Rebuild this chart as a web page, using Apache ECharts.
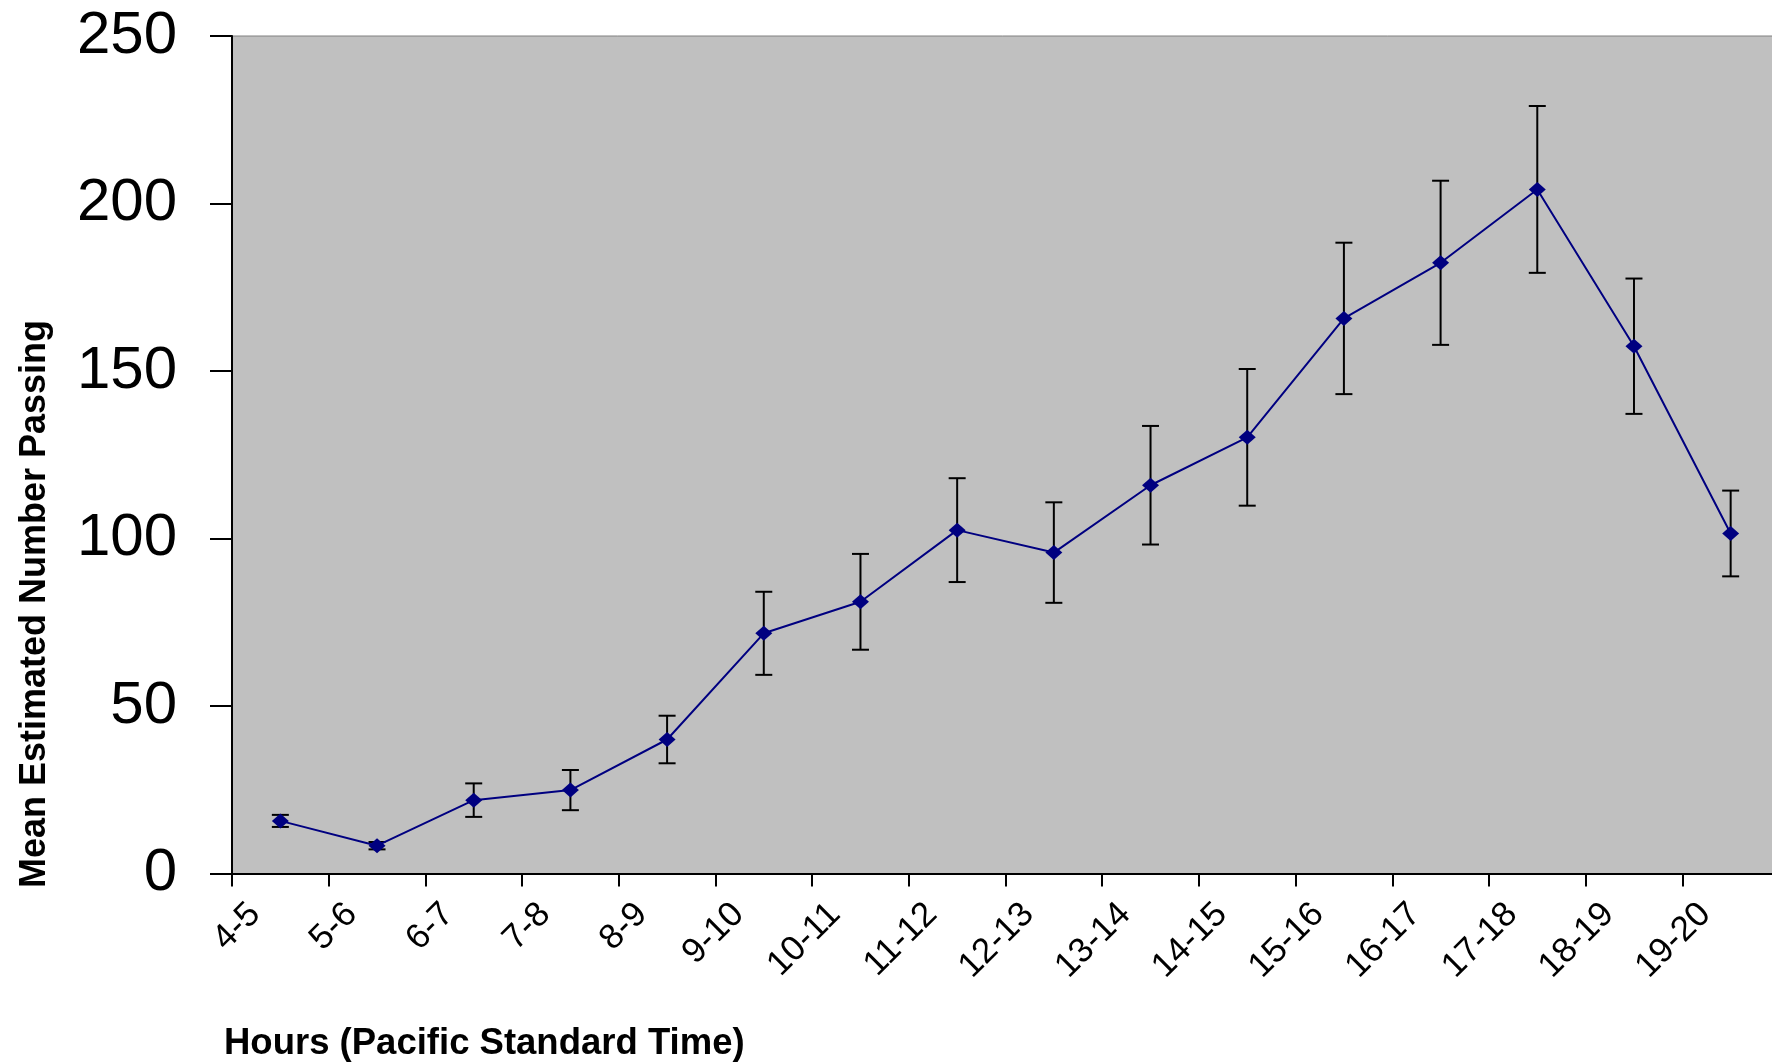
<!DOCTYPE html>
<html>
<head>
<meta charset="utf-8">
<script src="https://cdn.jsdelivr.net/npm/echarts@6/dist/echarts.min.js"></script>
<style>
html,body{margin:0;padding:0;background:#fff;}
#chart{width:1772px;height:1062px;}
</style>
</head>
<body>
<div id="chart"></div>
<script>
const categories = ['4-5','5-6','6-7','7-8','8-9','9-10','10-11','11-12','12-13','13-14','14-15','15-16','16-17','17-18','18-19','19-20'];
const means = [15.7, 8.3, 21.9, 24.9, 40.0, 71.7, 81.1, 102.5, 95.8, 115.9, 130.2, 165.7, 182.3, 204.2, 157.4, 101.5];
const errors = [1.8, 1.1, 5.0, 6.0, 7.1, 12.4, 14.3, 15.5, 15.0, 17.7, 20.4, 22.6, 24.5, 24.9, 20.2, 12.8];
const yTicks = [0, 50, 100, 150, 200, 250];
const yTitle = 'Mean Estimated Number Passing';
const xTitle = 'Hours (Pacific Standard Time)';

const errData = categories.map((c, i) => [i, means[i] - errors[i], means[i] + errors[i]]);

const chart = echarts.init(document.getElementById('chart'), null, {renderer: 'canvas'});
chart.setOption({
  animation: false,
  backgroundColor: '#ffffff',
  grid: {
    left: 232, top: 36, width: 1547, height: 837.5,
    outerBoundsMode: 'none', containLabel: false,
    show: true, backgroundColor: '#C0C0C0', borderColor: '#808080', borderWidth: 1
  },
  xAxis: {
    type: 'category',
    data: categories,
    boundaryGap: true,
    axisLine: {show: true, lineStyle: {color: '#000', width: 2}},
    axisTick: {show: true, inside: false, length: 13, interval: 0, lineStyle: {color: '#000', width: 2}},
    axisLabel: {
      interval: 0, rotate: 45, margin: 10,
      padding: [0, 36, 0, 0],
      fontFamily: 'Liberation Sans, Arial, sans-serif', fontSize: 35, color: '#000'
    },
    splitLine: {show: false}
  },
  yAxis: {
    type: 'value',
    min: yTicks[0], max: yTicks[yTicks.length - 1], interval: 50,
    axisLine: {show: true, lineStyle: {color: '#000', width: 2}},
    axisTick: {show: true, inside: false, length: 22, lineStyle: {color: '#000', width: 2}},
    axisLabel: {
      margin: 55, padding: [10, 0, 0, 0],
      fontFamily: 'Liberation Sans, Arial, sans-serif', fontSize: 60, color: '#000'
    },
    splitLine: {show: false}
  },
  graphic: [
    {
      type: 'text', x: 35, y: 604, rotation: Math.PI / 2,
      style: {text: yTitle, font: 'bold 36px "Liberation Sans", Arial, sans-serif', fill: '#000',
        align: 'center', verticalAlign: 'middle', textAlign: 'center', textVerticalAlign: 'middle'}
    },
    {
      type: 'text', x: 224, y: 1044,
      style: {text: xTitle, font: 'bold 36.5px "Liberation Sans", Arial, sans-serif', fill: '#000',
        align: 'left', verticalAlign: 'middle', textAlign: 'left', textVerticalAlign: 'middle'}
    }
  ],
  series: [
    {
      type: 'custom',
      z: 2,
      data: errData,
      encode: {x: 0, y: [1, 2]},
      renderItem: function (params, api) {
        const x = api.value(0);
        const lo = api.coord([x, api.value(1)]);
        const hi = api.coord([x, api.value(2)]);
        const half = 8.5;
        const st = {stroke: '#000', lineWidth: 2};
        return {
          type: 'group',
          children: [
            {type: 'line', shape: {x1: lo[0], y1: lo[1], x2: hi[0], y2: hi[1]}, style: st},
            {type: 'line', shape: {x1: lo[0] - half, y1: lo[1], x2: lo[0] + half, y2: lo[1]}, style: st},
            {type: 'line', shape: {x1: hi[0] - half, y1: hi[1], x2: hi[0] + half, y2: hi[1]}, style: st}
          ]
        };
      }
    },
    {
      type: 'line',
      z: 3,
      data: means,
      symbol: 'diamond',
      symbolSize: [17, 15],
      showSymbol: true,
      lineStyle: {color: '#000080', width: 2},
      itemStyle: {color: '#000080', borderWidth: 0}
    }
  ]
});
</script>
</body>
</html>
